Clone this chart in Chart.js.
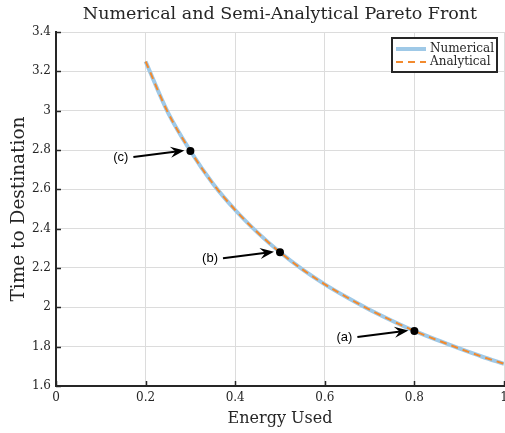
<!DOCTYPE html>
<html>
<head>
<meta charset="utf-8">
<script src="https://cdn.jsdelivr.net/npm/chart.js@4.4.1/dist/chart.umd.min.js"></script>
<style>
    html, body { margin: 0; padding: 0; background: #fff; overflow: hidden; }
    #wrap { width: 505px; height: 433px; overflow: hidden; }
</style>
</head>
<body>
<div id="wrap"><canvas id="paretoChart" width="520" height="433"></canvas></div>
<script>
// Values
const energyUsed = [0.2, 0.25, 0.3, 0.35, 0.4, 0.45, 0.5, 0.55, 0.6, 0.65, 0.7, 0.75, 0.8, 0.85, 0.9, 0.95, 1.0];
const timeNumerical = [3.25, 2.99, 2.795, 2.63, 2.495, 2.38, 2.28, 2.193, 2.117, 2.05, 1.988, 1.932, 1.88, 1.834, 1.791, 1.75, 1.713];
const timeAnalytical = [3.25, 2.99, 2.795, 2.63, 2.495, 2.38, 2.28, 2.193, 2.117, 2.05, 1.988, 1.932, 1.88, 1.834, 1.791, 1.75, 1.713];

const markerEnergy = [0.8, 0.5, 0.3];
const markerTime = [1.88, 2.28, 2.795];
const markerLabels = ['(a)', '(b)', '(c)'];

const xTicks = [0, 0.2, 0.4, 0.6, 0.8, 1];
const yTicks = [1.6, 1.8, 2, 2.2, 2.4, 2.6, 2.8, 3, 3.2, 3.4];

const serif = "'DejaVu Serif', serif";
const axisColor = '#262626';
const gridColor = '#dcdcdc';

function toPoints(xs, ys) {
    return xs.map(function(x, i) { return { x: x, y: ys[i] }; });
}

function plainTick(value) {
    return String(Math.round(value * 10) / 10);
}

// Inward ticks, arrows with labels, and the boxed legend
const overlayPlugin = {
    id: 'overlay',
    afterDraw: function(chart) {
        const ctx = chart.ctx;
        const area = chart.chartArea;
        const xs = chart.scales.x;
        const ys = chart.scales.y;

        ctx.save();
        ctx.strokeStyle = axisColor;
        ctx.lineWidth = 1.5;
        xTicks.forEach(function(v) {
            const px = Math.round(xs.getPixelForValue(v)) + 0.5;
            ctx.beginPath();
            ctx.moveTo(px, area.bottom);
            ctx.lineTo(px, area.bottom - 5);
            ctx.stroke();
        });
        yTicks.forEach(function(v) {
            const py = Math.round(ys.getPixelForValue(v)) + 0.5;
            ctx.beginPath();
            ctx.moveTo(area.left, py);
            ctx.lineTo(area.left + 5, py);
            ctx.stroke();
        });

        // arrows pointing at the marked solutions
        markerEnergy.forEach(function(e, i) {
            const px = xs.getPixelForValue(e);
            const py = ys.getPixelForValue(markerTime[i]);
            const x0 = px - 57, y0 = py + 6;
            const x1 = px - 6, y1 = py - 0.5;
            const ang = Math.atan2(y1 - y0, x1 - x0);
            const cos = Math.cos(ang), sin = Math.sin(ang);

            ctx.strokeStyle = '#000';
            ctx.fillStyle = '#000';
            ctx.lineWidth = 2;
            ctx.beginPath();
            ctx.moveTo(x0, y0);
            ctx.lineTo(x1 - 8 * cos, y1 - 8 * sin);
            ctx.stroke();

            ctx.beginPath();
            ctx.moveTo(x1, y1);
            ctx.lineTo(x1 - 14 * cos + 5.5 * sin, y1 - 14 * sin - 5.5 * cos);
            ctx.lineTo(x1 - 9 * cos, y1 - 9 * sin);
            ctx.lineTo(x1 - 14 * cos - 5.5 * sin, y1 - 14 * sin + 5.5 * cos);
            ctx.closePath();
            ctx.fill();

            ctx.font = "13px 'Liberation Sans', Arial, sans-serif";
            ctx.textAlign = 'right';
            ctx.textBaseline = 'middle';
            ctx.fillText(markerLabels[i], x0 - 5, y0 + 0.5);
        });

        // legend box
        const bw = 105, bh = 34;
        const bx = area.right - 7 - bw, by = area.top + 6;
        ctx.fillStyle = '#fff';
        ctx.fillRect(bx, by, bw, bh);
        ctx.strokeStyle = axisColor;
        ctx.lineWidth = 2;
        ctx.strokeRect(bx, by, bw, bh);

        const sets = chart.data.datasets;
        [0, 1].forEach(function(k, j) {
            const ds = sets[k];
            const ly = by + 11 + j * 13;
            ctx.strokeStyle = ds.borderColor;
            ctx.lineWidth = ds.borderWidth;
            ctx.setLineDash(ds.borderDash || []);
            ctx.beginPath();
            ctx.moveTo(bx + 4, ly);
            ctx.lineTo(bx + 34, ly);
            ctx.stroke();
            ctx.setLineDash([]);

            ctx.fillStyle = axisColor;
            ctx.font = '12px ' + serif;
            ctx.textAlign = 'left';
            ctx.textBaseline = 'middle';
            ctx.fillText(ds.label, bx + 38, ly);
        });
        ctx.restore();
    }
};

const ctx = document.getElementById('paretoChart');
new Chart(ctx, {
    type: 'line',
    data: {
        datasets: [{
            label: 'Numerical',
            data: toPoints(energyUsed, timeNumerical),
            borderColor: '#9fc9e7',
            borderWidth: 4,
            pointRadius: 0,
            cubicInterpolationMode: 'monotone',
            fill: false,
            order: 2
        }, {
            label: 'Analytical',
            data: toPoints(energyUsed, timeAnalytical),
            borderColor: '#f28a2e',
            borderWidth: 2,
            borderDash: [7, 5],
            pointRadius: 0,
            cubicInterpolationMode: 'monotone',
            fill: false,
            order: 1
        }, {
            label: 'Markers',
            data: toPoints(markerEnergy, markerTime),
            showLine: false,
            pointRadius: 4,
            pointBackgroundColor: '#000',
            pointBorderColor: '#000',
            pointBorderWidth: 0,
            order: 0
        }]
    },
    options: {
        responsive: false,
        animation: false,
        devicePixelRatio: 1,
        layout: {
            padding: { left: 0, right: 16, top: 0, bottom: 0 }
        },
        plugins: {
            legend: { display: false },
            tooltip: { enabled: false },
            title: {
                display: true,
                fullSize: false,
                text: 'Numerical and Semi-Analytical Pareto Front',
                color: axisColor,
                font: { family: serif, size: 17.5, weight: 'normal' },
                padding: { top: 4, bottom: 7 }
            }
        },
        scales: {
            x: {
                type: 'linear',
                min: 0,
                max: 1,
                afterFit: function(scale) { scale.height = 47; },
                afterBuildTicks: function(scale) {
                    scale.ticks = xTicks.map(function(v) { return { value: v }; });
                },
                grid: { color: gridColor, lineWidth: 1, drawTicks: false },
                border: { color: axisColor, width: 2 },
                ticks: {
                    color: axisColor,
                    padding: 5,
                    maxRotation: 0,
                    callback: plainTick,
                    font: { family: serif, size: 12 }
                },
                title: {
                    display: true,
                    text: 'Energy Used',
                    color: axisColor,
                    font: { family: serif, size: 16 },
                    padding: { top: 0, bottom: 5 }
                }
            },
            y: {
                type: 'linear',
                min: 1.6,
                max: 3.4,
                afterFit: function(scale) { scale.width = 56; },
                afterBuildTicks: function(scale) {
                    scale.ticks = yTicks.map(function(v) { return { value: v }; });
                },
                grid: { color: gridColor, lineWidth: 1, drawTicks: false },
                border: { color: axisColor, width: 2 },
                ticks: {
                    color: axisColor,
                    padding: 5,
                    callback: plainTick,
                    font: { family: serif, size: 12 }
                },
                title: {
                    display: true,
                    text: 'Time to Destination',
                    color: axisColor,
                    font: { family: serif, size: 18.5 },
                    padding: { top: 8, bottom: 0 }
                }
            }
        }
    },
    plugins: [overlayPlugin]
});
</script>
</body>
</html>
